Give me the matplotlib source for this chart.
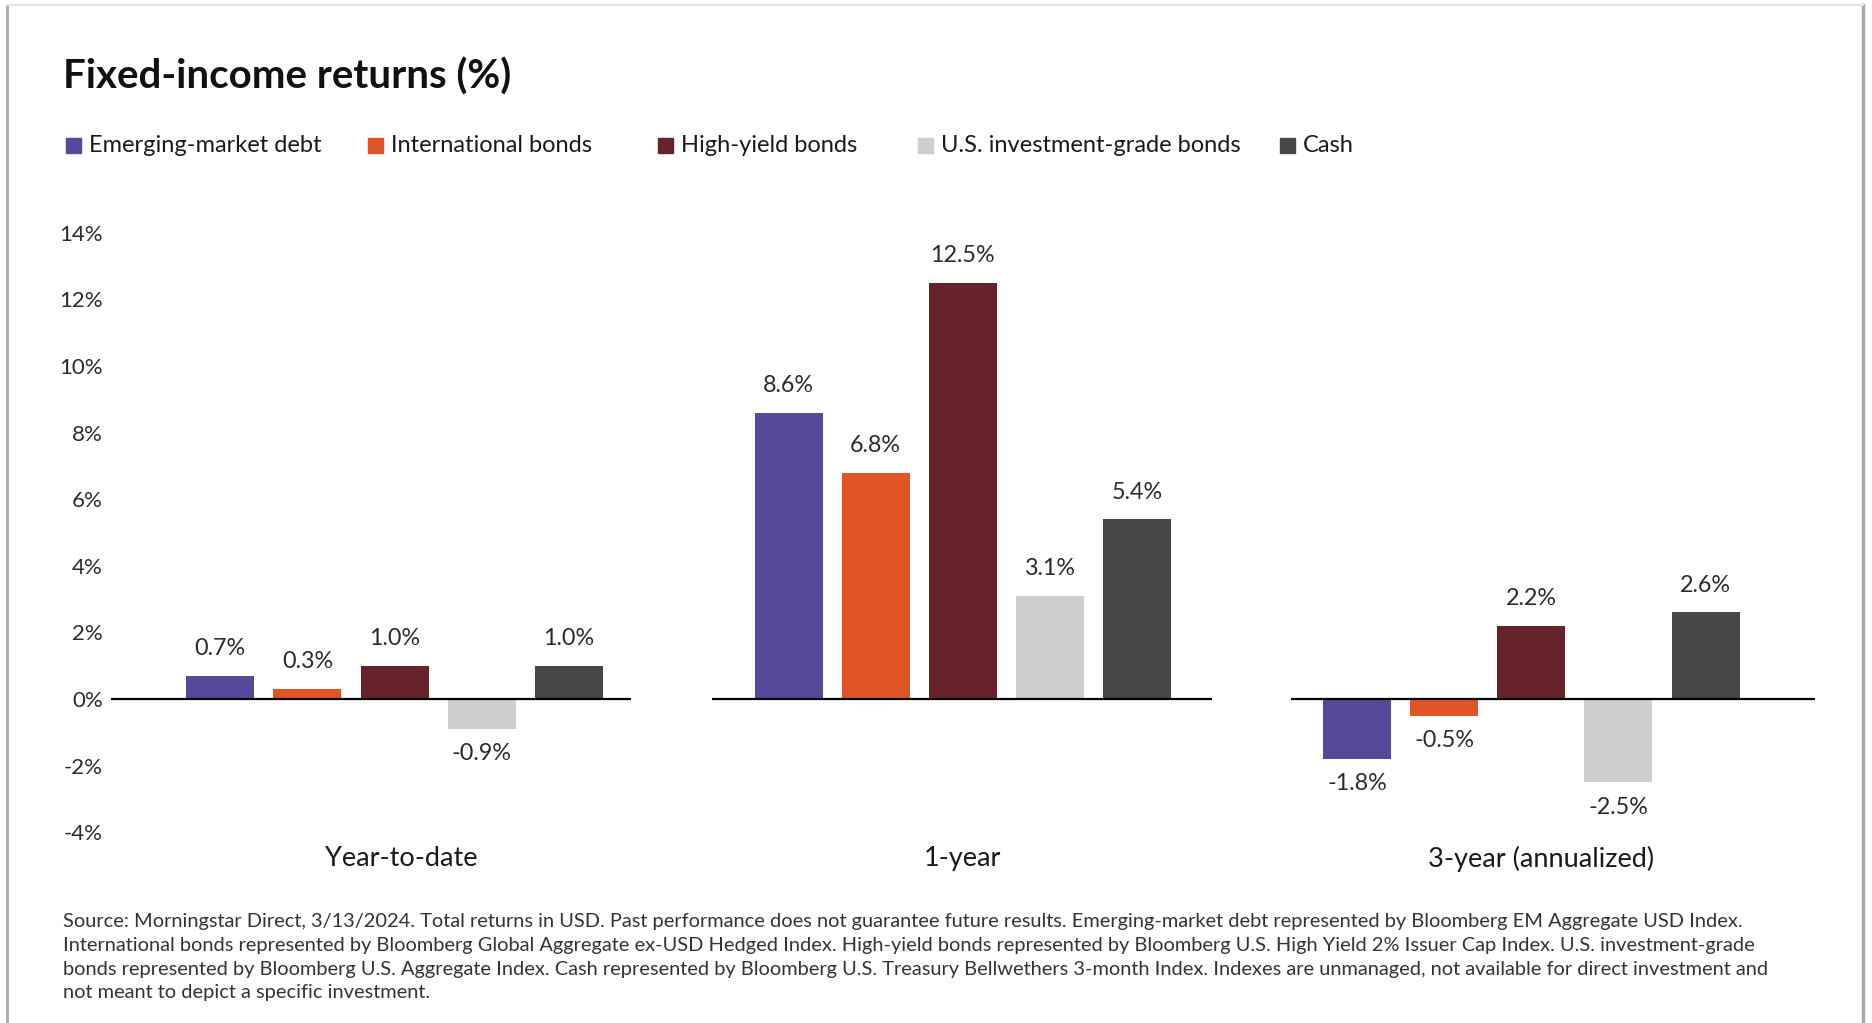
import matplotlib
matplotlib.use("Agg")
from matplotlib import pyplot as plt
from matplotlib.patches import Rectangle
from matplotlib.lines import Line2D
from matplotlib.transforms import ScaledTranslation
import numpy as np

plt.rcParams['font.family'] = ['Lato', 'DejaVu Sans']

# data
series = ['Emerging-market debt', 'International bonds', 'High-yield bonds',
          'U.S. investment-grade bonds', 'Cash']
periods = ['Year-to-date', '1-year', '3-year (annualized)']
ytd = [0.7, 0.3, 1.0, -0.9, 1.0]
one_year = [8.6, 6.8, 12.5, 3.1, 5.4]
three_year = [-1.8, -0.5, 2.2, -2.5, 2.6]
colors = ['#55499A', '#E05426', '#652229', '#CFCECC', '#474748']
yticks = [-4, -2, 0, 2, 4, 6, 8, 10, 12, 14]

footnote = [
    "Source: Morningstar Direct, 3/13/2024. Total returns in USD. Past performance does not guarantee future results. Emerging-market debt represented by Bloomberg EM Aggregate USD Index.",
    "International bonds represented by Bloomberg Global Aggregate ex-USD Hedged Index. High-yield bonds represented by Bloomberg U.S. High Yield 2% Issuer Cap Index. U.S. investment-grade",
    "bonds represented by Bloomberg U.S. Aggregate Index. Cash represented by Bloomberg U.S. Treasury Bellwethers 3-month Index. Indexes are unmanaged, not available for direct investment and",
    "not meant to depict a specific investment.",
]

# layout
group_gap = 6.52
bar_w = 0.78
base_ext = [(-3.25, 2.71), (-2.88, 2.86), (-2.76, 3.25)]
legend_x = [66, 368, 658, 918, 1280]
label_shift = [7, 0, 10]   # px nudge of period labels

W, H = 1872, 1023
fig = plt.figure(figsize=(W / 100, H / 100), dpi=100)
fig.patch.set_facecolor('white')

# card edges
fig.add_artist(Line2D([7 / W, 7 / W], [0, 1 - 5 / H], color='#AAAAAA', lw=2))
fig.add_artist(Line2D([1863 / W, 1863 / W], [0, 1 - 5 / H], color='#AAAAAA', lw=2.5))
fig.add_artist(Line2D([7 / W, 1863 / W], [1 - 5 / H, 1 - 5 / H], color='#E4E4E4', lw=1.5))

ax = fig.add_axes([111 / W, 1 - 832.2 / H, (1815 - 111) / W, (832.2 - 232.8) / H])

groups = [ytd, one_year, three_year]
offsets = np.arange(5) - 2
for g, vals in enumerate(groups):
    center = g * group_gap
    x = center + offsets
    ax.bar(x, vals, width=bar_w, color=colors, zorder=2)
    lo, hi = base_ext[g]
    ax.plot([center + lo, center + hi], [0, 0], color='black', lw=1.6, zorder=3,
            solid_capstyle='butt')
    for xi, v in zip(x, vals):
        dy = 19.5 if v >= 0 else -18
        ax.annotate(f"{v:.1f}%", (xi, v), xytext=(0, dy), textcoords='offset points',
                    ha='center', va='center', fontsize=16.8, color='#2B2B2B')

ax.set_xlim(-3.253, 16.295)
ax.set_ylim(-4, 14)
ax.set_yticks(yticks)
ax.set_yticklabels([f"{t}%" for t in yticks], fontsize=16, color='#2B2B2B')
ax.set_xticks([g * group_gap for g in range(3)])
ax.set_xticklabels(periods, fontsize=19.5, color='#1A1A1A')
ax.tick_params(axis='both', length=0)
ax.tick_params(axis='y', pad=6)
ax.tick_params(axis='x', pad=10)
for s in ax.spines.values():
    s.set_visible(False)
for lab, sh in zip(ax.get_xticklabels(), label_shift):
    lab.set_transform(lab.get_transform() + ScaledTranslation(sh / 100, 0, fig.dpi_scale_trans))

# title
fig.text(63 / W, 1 - 77 / H, "Fixed-income returns (%)", fontsize=29, fontweight='bold',
         color='#111111', va='center', ha='left')

# legend
for name, c, lx in zip(series, colors, legend_x):
    fig.add_artist(Rectangle((lx / W, 1 - 153 / H), 15 / W, 15 / H, color=c))
    fig.text((lx + 23) / W, 1 - 146 / H, name, fontsize=17, color='#1A1A1A',
             va='center', ha='left')

# footnote
for i, line in enumerate(footnote):
    fig.text(63 / W, 1 - (922 + i * 23.5) / H, line, fontsize=14.4, color='#333333',
             va='center', ha='left')

fig.savefig('out.png', dpi=100)
